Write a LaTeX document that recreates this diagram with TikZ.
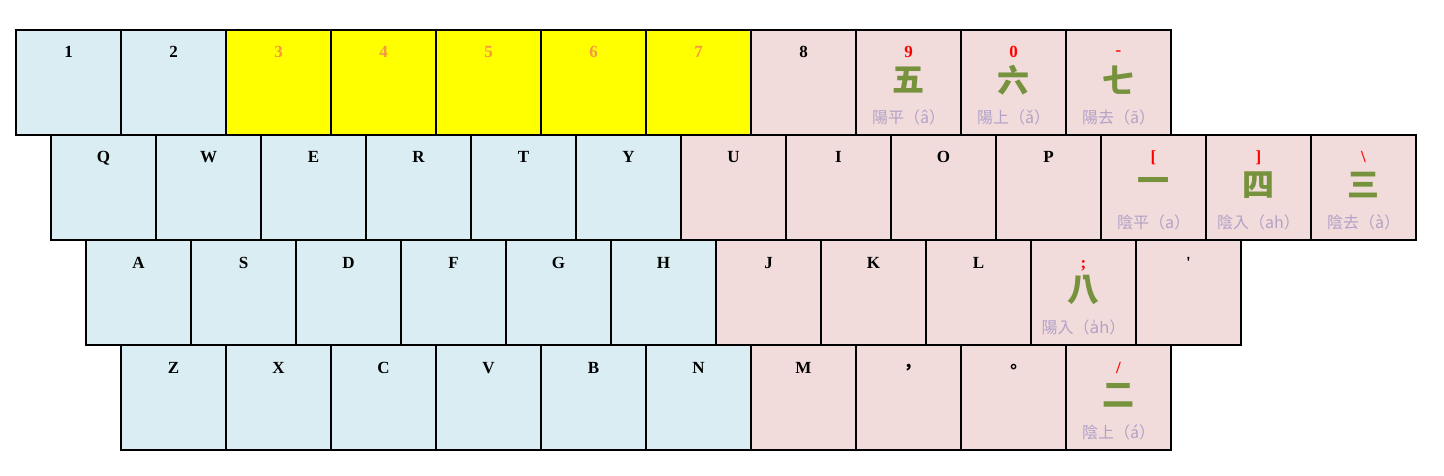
\documentclass[tikz,border=0pt]{standalone}
\usepackage{fontspec}
\setmainfont{Liberation Serif}
\newfontfamily\cjk{Noto Sans CJK TC}
\newfontfamily\dvs{DejaVu Sans}
\definecolor{keyblue}{HTML}{DAEDF3}
\definecolor{keypink}{HTML}{F2DCDB}
\definecolor{keyyellow}{HTML}{FFFF00}
\definecolor{keyorange}{HTML}{F79646}
\definecolor{hanzigreen}{HTML}{76923C}
\definecolor{tonepurple}{HTML}{B2A1C7}
\tikzset{
  keybox/.style={draw=black, line width=2pt, minimum width=105pt, minimum height=105pt, inner sep=0pt, outer sep=0pt},
  bluekey/.style={keybox, fill=keyblue},
  yelkey/.style={keybox, fill=keyyellow},
  pinkkey/.style={keybox, fill=keypink},
  keylabel/.style={font=\fontsize{17}{17}\selectfont\bfseries, text=black, inner sep=0pt},
  yellabel/.style={keylabel, text=keyorange},
  redlabel/.style={keylabel, text=red},
  bigchar/.style={font=\cjk\bfseries\fontsize{32}{32}\selectfont, text=hanzigreen, inner sep=0pt, anchor=center},
  tonelabel/.style={font=\cjk\fontsize{16}{16}\selectfont, text=tonepurple, inner sep=0pt, anchor=center},
  punct/.style={font=\cjk\bfseries\fontsize{17}{17}\selectfont, text=black, inner sep=0pt, anchor=center}
}
\newcommand\kbkey[6]{%
  \node[#4] (#1) at ({#2+52.5},{#3+52.5}) {};
  \node[#5, anchor=base] (#1l) at ([yshift=-28pt]#1.north) {#6};
}
\newcommand\kbblank[4]{%
  \node[#4] (#1) at ({#2+52.5},{#3+52.5}) {};
}
\newcommand\kbhan[3]{%
  \node[bigchar] (#1h) at ([yshift=-50pt]#1.north) {#2};
  \node[tonelabel] (#1t) at ([yshift=-87pt]#1.north) {#3};
}
\begin{document}
\begin{tikzpicture}[x=1pt,y=-1pt]
\useasboundingbox[fill=white] (0,0) rectangle (1444,476);
% Row 1
\kbkey{k1}{16}{30}{bluekey}{keylabel}{1}
\kbkey{k2}{121}{30}{bluekey}{keylabel}{2}
\kbkey{k3}{226}{30}{yelkey}{yellabel}{3}
\kbkey{k4}{331}{30}{yelkey}{yellabel}{4}
\kbkey{k5}{436}{30}{yelkey}{yellabel}{5}
\kbkey{k6}{541}{30}{yelkey}{yellabel}{6}
\kbkey{k7}{646}{30}{yelkey}{yellabel}{7}
\kbkey{k8}{751}{30}{pinkkey}{keylabel}{8}
\kbkey{k9}{856}{30}{pinkkey}{redlabel}{9}
\kbhan{k9}{五}{陽平（â）}
\kbkey{k0}{961}{30}{pinkkey}{redlabel}{0}
\kbhan{k0}{六}{陽上（ǎ）}
\kbkey{kminus}{1066}{30}{pinkkey}{redlabel}{\raisebox{2pt}{-}}
\kbhan{kminus}{七}{陽去（ā）}
% Row 2
\kbkey{kq}{51}{135}{bluekey}{keylabel}{Q}
\kbkey{kw}{156}{135}{bluekey}{keylabel}{W}
\kbkey{ke}{261}{135}{bluekey}{keylabel}{E}
\kbkey{kr}{366}{135}{bluekey}{keylabel}{R}
\kbkey{kt}{471}{135}{bluekey}{keylabel}{T}
\kbkey{ky}{576}{135}{bluekey}{keylabel}{Y}
\kbkey{ku}{681}{135}{pinkkey}{keylabel}{U}
\kbkey{ki}{786}{135}{pinkkey}{keylabel}{I}
\kbkey{ko}{891}{135}{pinkkey}{keylabel}{O}
\kbkey{kp}{996}{135}{pinkkey}{keylabel}{P}
\kbkey{klb}{1101}{135}{pinkkey}{redlabel}{[}
\kbhan{klb}{一}{陰平（a）}
\kbkey{krb}{1206}{135}{pinkkey}{redlabel}{]}
\kbhan{krb}{四}{陰入（ah）}
\kbkey{kbs}{1311}{135}{pinkkey}{redlabel}{\textbackslash}
\kbhan{kbs}{三}{陰去（à）}
% Row 3
\kbkey{ka}{86}{240}{bluekey}{keylabel}{A}
\kbkey{ks}{191}{240}{bluekey}{keylabel}{S}
\kbkey{kd}{296}{240}{bluekey}{keylabel}{D}
\kbkey{kf}{401}{240}{bluekey}{keylabel}{F}
\kbkey{kg}{506}{240}{bluekey}{keylabel}{G}
\kbkey{kh}{611}{240}{bluekey}{keylabel}{H}
\kbkey{kj}{716}{240}{pinkkey}{keylabel}{J}
\kbkey{kk}{821}{240}{pinkkey}{keylabel}{K}
\kbkey{kl}{926}{240}{pinkkey}{keylabel}{L}
\kbkey{ksemi}{1031}{240}{pinkkey}{redlabel}{;}
\kbhan{ksemi}{八}{陽入（{\dvs a̍h}）}
\kbkey{kquote}{1136}{240}{pinkkey}{keylabel}{\textquotesingle}
% Row 4
\kbkey{kz}{121}{345}{bluekey}{keylabel}{Z}
\kbkey{kx}{226}{345}{bluekey}{keylabel}{X}
\kbkey{kc}{331}{345}{bluekey}{keylabel}{C}
\kbkey{kv}{436}{345}{bluekey}{keylabel}{V}
\kbkey{kb}{541}{345}{bluekey}{keylabel}{B}
\kbkey{kn}{646}{345}{bluekey}{keylabel}{N}
\kbkey{km}{751}{345}{pinkkey}{keylabel}{M}
\kbblank{kcomma}{856}{345}{pinkkey}
\node[punct] (kcommal) at ([yshift=-24pt]kcomma.north) {，};
\kbblank{kstop}{961}{345}{pinkkey}
\node[punct] (kstopl) at ([yshift=-24pt]kstop.north) {。};
\kbkey{kslash}{1066}{345}{pinkkey}{redlabel}{/}
\kbhan{kslash}{二}{陰上（á）}
\end{tikzpicture}
\end{document}
